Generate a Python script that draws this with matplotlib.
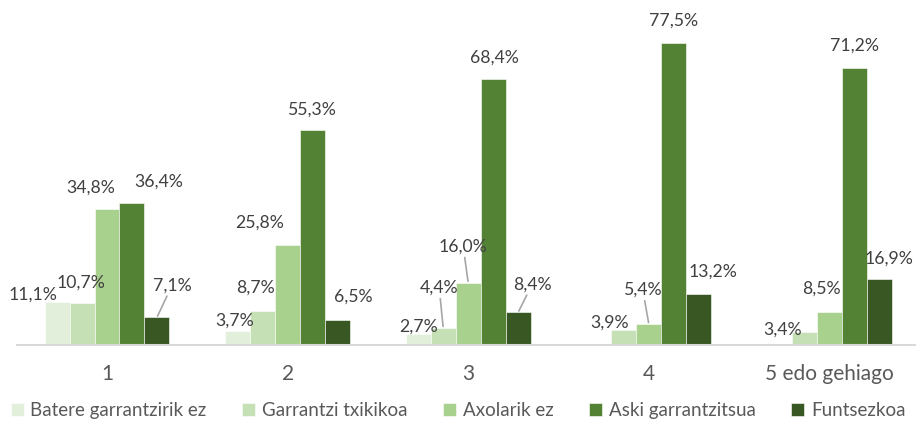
import matplotlib
matplotlib.use("Agg")
import matplotlib.pyplot as plt
import numpy as np

# data
categories = ["1", "2", "3", "4", "5 edo gehiago"]
series_names = ["Batere garrantzirik ez", "Garrantzi txikikoa", "Axolarik ez",
                "Aski garrantzitsua", "Funtsezkoa"]
batere = [11.1, 3.7, 2.7, 0.0, 0.0]
txikikoa = [10.7, 8.7, 4.4, 3.9, 3.4]
axolarik = [34.8, 25.8, 16.0, 5.4, 8.5]
aski = [36.4, 55.3, 68.4, 77.5, 71.2]
funtsezkoa = [7.1, 6.5, 8.4, 13.2, 16.9]
series = [batere, txikikoa, axolarik, aski, funtsezkoa]

colors = ["#E2EFDA", "#C5E0B4", "#A9D18E", "#548235", "#385723"]

# label placement (pixel offsets from bar top centre), leader line flag
label_pos = {
    (0, 0): (-24, 7, False), (1, 0): (-1, 21, False), (2, 0): (-16, 22, False),
    (3, 0): (27, 22, False), (4, 0): (15, 32, True),
    (0, 1): (-3, 10, False), (1, 1): (-7, 23, False), (2, 1): (-28, 22, False),
    (3, 1): (0, 20, False), (4, 1): (16, 23, False),
    (0, 2): (0, 8, False), (1, 2): (-4, 40, True), (2, 2): (-5, 36, True),
    (3, 2): (1, 21, False), (4, 2): (14, 28, True),
    (1, 3): (-14, 7, False), (2, 3): (-6, 34, True),
    (3, 3): (0, 23, False), (4, 3): (14, 22, False),
    (1, 4): (-22, 2, False), (2, 4): (-8, 23, False),
    (3, 4): (0, 22, False), (4, 4): (10, 21, False),
}

plt.rcParams["font.family"] = ["Lato", "DejaVu Sans"]

fig = plt.figure(figsize=(9.16, 4.21), dpi=100)
ax = fig.add_axes([16.7 / 916, 76 / 421, 903 / 916, 331 / 421])

x = np.arange(len(categories))
w = 0.1384
for i, (name, vals) in enumerate(zip(series_names, series)):
    pos = x + (i - 2) * w
    ax.bar(pos, vals, w, color=colors[i], label=name, edgecolor="white", linewidth=0.4)
    for j, v in enumerate(vals):
        if v == 0:
            continue
        dx, dy, leader = label_pos[(i, j)]
        txt = f"{v:.1f}%".replace(".", ",")
        kw = {}
        if leader:
            kw["arrowprops"] = dict(arrowstyle="-", color="#A6A6A6", lw=1.2,
                                    shrinkA=0, shrinkB=1)
        ax.annotate(txt, xy=(pos[j], v), xytext=(dx, dy), textcoords="offset pixels",
                    ha="center", va="center", fontsize=12.7, color="#404040",
                    annotation_clip=False, **kw)

ax.set_xlim(-0.5, 4.5)
ax.set_ylim(0, 85)
ax.set_xticks(x)
ax.set_xticklabels(categories, fontsize=15, color="#595959")
ax.tick_params(axis="x", length=0, pad=14)
ax.set_yticks([])
for s in ["top", "right", "left"]:
    ax.spines[s].set_visible(False)
ax.spines["bottom"].set_color("#D9D9D9")
ax.spines["bottom"].set_linewidth(1.5)

fig.legend(loc="lower center", bbox_to_anchor=(0.5, -0.035), ncol=5, frameon=False,
           fontsize=13.5, handlelength=0.7, handleheight=0.7, handletextpad=0.35,
           columnspacing=1.9, labelcolor="#595959")

fig.savefig("out.png", dpi=100)
